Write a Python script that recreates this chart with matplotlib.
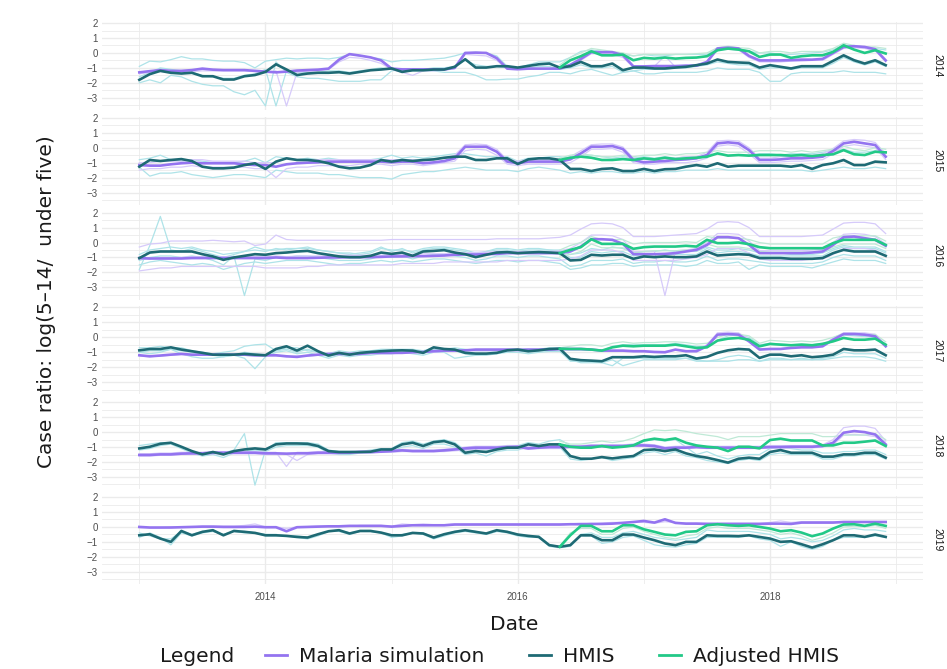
import numpy as np
import matplotlib
matplotlib.use("Agg")
import matplotlib.pyplot as plt
from matplotlib.lines import Line2D

plt.rcParams['font.family'] = ['DejaVu Sans']

# ---------------- data ----------------
years = ["2014", "2015", "2016", "2017", "2018", "2019"]   # facet labels
start_year = 2013            # first month Jan 2013, 72 monthly points
n_months = 72
adj_start = 40               # Adjusted HMIS starts May 2016
x_ticks = [2014, 2016, 2018]
x_tick_labels = ["2014", "2016", "2018"]
y_ticks = [2, 1, 0, -1, -2, -3]

# ---- panel 2014 ----
sim_2014 = [-1.3,-1.22,-1.15,-1.2,-1.2,-1.15,-1.05,-1.12,-1.15,-1.15,-1.15,-1.2,
            -1.25,-1.3,-1.25,-1.18,-1.15,-1.12,-1.05,-0.45,-0.08,-0.18,-0.3,-0.5,
            -1.05,-1.1,-1.1,-1.1,-1.1,-1.1,-1.0,0.0,0.02,0.0,-0.35,-1.05,
            -1.08,-1.05,-1.05,-1.05,-1.05,-0.8,-0.4,0.05,0.05,0.05,-0.15,-0.9,
            -0.9,-0.88,-0.88,-0.88,-0.85,-0.85,-0.6,0.3,0.35,0.3,-0.2,-0.5,
            -0.5,-0.5,-0.48,-0.45,-0.45,-0.4,0.0,0.4,0.45,0.4,0.25,-0.5]
hmis_2014 = [-1.8,-1.42,-1.2,-1.33,-1.38,-1.33,-1.56,-1.56,-1.78,-1.78,-1.56,-1.48,
             -1.27,-0.76,-1.11,-1.48,-1.38,-1.33,-1.33,-1.29,-1.38,-1.27,-1.16,-1.11,
             -1.04,-1.27,-1.16,-1.16,-1.11,-1.11,-0.93,-0.42,-0.98,-0.98,-0.89,-0.89,
             -0.98,-0.87,-0.76,-0.71,-0.98,-0.89,-0.6,-0.89,-0.89,-0.71,-1.16,-0.98,
             -0.98,-1.04,-1.04,-0.98,-0.93,-0.82,-0.71,-0.44,-0.6,-0.64,-0.67,-0.98,
             -0.82,-0.93,-1.04,-0.89,-0.89,-0.89,-0.53,-0.16,-0.49,-0.71,-0.49,-0.82]
adj_2014 = [-0.98,-0.49,-0.22,0.11,-0.16,-0.16,-0.11,-0.49,
            -0.33,-0.38,-0.31,-0.38,-0.33,-0.31,-0.22,0.18,0.29,0.22,0.11,-0.27,
            -0.11,-0.11,-0.33,-0.22,-0.16,-0.16,0.07,0.51,0.22,0.0,0.18,-0.04]
bg_hmis_2014_a = [-0.9,-0.55,-0.6,-0.45,-0.25,-0.4,-0.4,-0.5,-0.55,-0.55,-0.65,-1.0,
                  -0.55,-0.45,-0.35,-0.4,-0.35,-0.35,-0.4,-0.3,-0.1,-0.2,-0.3,-0.4,
                  -0.6,-0.5,-0.5,-0.45,-0.4,-0.35,-0.2,0.0,0.05,0.0,-0.2,-0.9,
                  -1.0,-0.8,-0.6,-0.6,-0.6,-0.3,0.1,0.2,0.1,0.0,-0.1,-0.2,
                  -0.1,-0.2,-0.2,-0.1,-0.1,-0.1,-0.1,0.3,0.35,0.3,0.1,0.0,
                  0.0,-0.1,-0.1,-0.05,0.0,0.05,0.2,0.55,0.45,0.4,0.3,0.2]
bg_hmis_2014_b = [-2.0,-1.8,-2.0,-1.5,-1.6,-1.9,-2.1,-2.2,-2.2,-2.6,-2.8,-2.5,
                  -3.55,-0.6,-1.3,-1.6,-1.7,-1.7,-1.8,-1.9,-1.9,-1.9,-1.8,-1.8,
                  -1.2,-1.1,-1.2,-1.2,-1.2,-1.3,-1.3,-1.3,-1.5,-1.8,-1.8,-1.75,
                  -1.75,-1.6,-1.5,-1.3,-1.3,-1.4,-1.2,-1.1,-1.3,-1.5,-1.3,-1.2,
                  -1.4,-1.4,-1.3,-1.3,-1.3,-1.3,-1.2,-1.0,-1.1,-1.1,-1.1,-1.3,
                  -1.9,-1.9,-1.4,-1.3,-1.3,-1.3,-1.3,-1.2,-1.3,-1.3,-1.3,-1.4]
bg_hmis_2014_c = [-1.6,-1.3,-1.0,-1.1,-1.2,-1.3,-1.5,-1.6,-1.7,-1.7,-1.5,-1.4,
                  -1.1,-3.55,-1.2,-1.3,-1.3,-1.3,-1.2,-1.2,-1.3,-1.2,-1.1,-1.0,
                  -1.1,-1.2,-1.1,-1.1,-1.0,-1.0,-0.9,-0.5,-0.8,-0.9,-0.9,-1.0,
                  -1.0,-1.0,-0.9,-0.9,-1.1,-1.0,-0.8,-1.0,-1.0,-0.9,-1.3,-1.2,
                  -1.1,-1.1,-1.1,-1.0,-1.0,-0.9,-0.8,-0.6,-0.7,-0.8,-0.8,-1.1,
                  -1.0,-1.0,-1.1,-1.0,-1.0,-1.0,-0.7,-0.3,-0.6,-0.8,-0.6,-0.9]
bg_sim_2014_a = [-1.4,-1.3,-1.25,-1.3,-1.3,-1.25,-1.2,-1.2,-1.2,-1.2,-1.2,-1.25,
                 -1.3,-1.2,-3.55,-1.3,-1.2,-1.2,-1.1,-0.6,-0.3,-0.35,-0.5,-0.7,
                 -1.1,-1.3,-1.5,-1.2,-1.2,-1.15,-1.05,-0.1,-0.15,-0.2,-0.5,-1.1,
                 -1.15,-1.1,-1.1,-1.1,-1.1,-0.9,-0.5,-0.05,-0.05,-0.1,-0.3,-0.95,
                 -0.95,-0.9,-0.2,-0.95,-0.9,-0.9,-0.7,0.2,0.25,0.2,-0.3,-0.6,
                 -0.6,-0.6,-0.55,-0.55,-0.5,-0.5,-0.1,0.3,0.35,0.3,0.15,-0.6]
bg_adj_2014_a = [-0.8,-0.3,0.0,0.3,0.2,0.1,0.0,-0.2,
                 -0.1,-0.1,-0.1,-0.1,-0.1,-0.05,0.0,0.35,0.45,0.35,0.3,0.0,
                 0.1,0.1,0.0,0.1,0.1,0.1,0.3,0.65,0.5,0.4,0.4,0.3]

# ---- panel 2015 ----
sim_2015 = [-1.16,-1.2,-1.2,-1.11,-1.04,-1.0,-1.04,-1.04,-1.04,-1.04,-1.11,-1.16,
            -1.16,-1.27,-1.11,-1.04,-1.0,-0.98,-0.93,-0.93,-0.93,-0.93,-0.93,-0.93,
            -0.98,-0.93,-0.93,-1.04,-0.98,-0.89,-0.71,0.07,0.07,0.07,-0.27,-0.93,
            -1.04,-0.93,-0.93,-0.93,-0.93,-0.78,-0.38,0.07,0.07,0.11,-0.09,-0.82,
            -0.98,-0.93,-0.89,-0.82,-0.78,-0.71,-0.49,0.29,0.36,0.29,-0.16,-0.82,
            -0.82,-0.78,-0.71,-0.71,-0.67,-0.6,-0.22,0.29,0.4,0.29,0.18,-0.6]
hmis_2015 = [-1.27,-0.82,-0.89,-0.82,-0.76,-0.89,-1.27,-1.38,-1.38,-1.33,-1.16,-1.04,
             -1.42,-0.93,-0.71,-0.82,-0.82,-0.89,-1.04,-1.27,-1.38,-1.33,-1.16,-0.82,
             -0.93,-0.82,-0.89,-0.82,-0.78,-0.67,-0.6,-0.6,-0.82,-0.82,-0.71,-0.71,
             -1.09,-0.78,-0.71,-0.71,-0.82,-1.42,-1.42,-1.56,-1.42,-1.38,-1.56,-1.56,
             -1.42,-1.56,-1.44,-1.42,-1.27,-1.16,-1.27,-1.04,-1.27,-1.2,-1.2,-1.2,
             -1.2,-1.2,-1.27,-1.16,-1.42,-1.16,-1.04,-0.82,-1.16,-1.16,-0.93,-0.98]
adj_2015 = [-0.82,-0.67,-0.6,-0.67,-0.82,-0.82,-0.76,-0.82,
            -0.71,-0.78,-0.67,-0.76,-0.71,-0.67,-0.6,-0.38,-0.53,-0.49,-0.53,-0.49,
            -0.49,-0.49,-0.53,-0.49,-0.56,-0.49,-0.44,-0.16,-0.44,-0.49,-0.27,-0.31]
bg_hmis_2015_a = [-1.3,-1.9,-1.7,-1.7,-1.6,-1.8,-1.9,-2.0,-1.9,-1.8,-1.8,-1.9,
                  -2.0,-1.5,-1.6,-1.7,-1.7,-1.7,-1.8,-1.8,-1.9,-2.0,-2.0,-2.0,
                  -2.1,-1.8,-1.7,-1.6,-1.6,-1.5,-1.4,-1.3,-1.4,-1.5,-1.5,-1.5,
                  -1.6,-1.4,-1.3,-1.4,-1.5,-1.7,-1.6,-1.7,-1.6,-1.6,-1.7,-1.7,
                  -1.6,-1.7,-1.6,-1.6,-1.5,-1.5,-1.5,-1.4,-1.5,-1.5,-1.5,-1.5,
                  -1.5,-1.5,-1.5,-1.5,-1.6,-1.5,-1.4,-1.3,-1.4,-1.4,-1.3,-1.4]
bg_hmis_2015_b = [-0.8,-0.7,-0.5,-0.8,-0.9,-0.8,-0.9,-1.0,-1.0,-1.0,-0.9,-0.7,
                  -1.0,-0.6,-0.7,-0.8,-0.7,-0.8,-0.7,-0.8,-0.9,-0.8,-0.8,-0.7,
                  -0.5,-0.7,-0.6,-0.7,-0.6,-0.5,-0.4,-0.4,-0.5,-0.6,-0.6,-0.6,
                  -0.9,-0.7,-0.7,-0.6,-0.6,-0.7,-0.6,-0.5,-0.6,-0.7,-0.6,-0.7,
                  -0.6,-0.7,-0.6,-0.7,-0.6,-0.6,-0.5,-0.4,-0.5,-0.5,-0.5,-0.4,
                  -0.4,-0.5,-0.4,-0.4,-0.4,-0.3,-0.2,-0.1,-0.3,-0.3,-0.2,-0.3]
bg_sim_2015_a = [-1.0,-1.0,-0.9,-0.9,-0.9,-0.8,-0.8,-0.9,-0.9,-0.9,-0.9,-1.0,
                 -1.0,-1.0,-0.7,-0.8,-0.8,-0.8,-0.8,-0.8,-0.8,-0.8,-0.8,-0.8,
                 -0.8,-0.8,-0.8,-0.9,-0.8,-0.7,-0.5,0.2,0.25,0.2,-0.1,-0.8,
                 -0.9,-0.8,-0.8,-0.8,-0.8,-0.6,-0.2,0.2,0.25,0.25,0.05,-0.7,
                 -0.8,-0.8,-0.7,-0.7,-0.6,-0.6,-0.3,0.45,0.5,0.45,0.0,-0.7,
                 -0.7,-0.6,-0.6,-0.6,-0.5,-0.4,-0.05,0.45,0.55,0.5,0.35,-0.4]
bg_sim_2015_b = [-1.5,-1.4,-1.4,-1.3,-1.3,-1.2,-1.3,-1.3,-1.3,-1.3,-1.3,-1.4,
                 -1.4,-2.0,-1.4,-1.3,-1.3,-1.2,-1.2,-1.2,-1.2,-1.1,-1.1,-1.1,
                 -1.2,-1.1,-1.1,-1.2,-1.1,-1.0,-0.9,-0.2,-0.1,-0.15,-0.5,-1.1,
                 -1.2,-1.1,-1.1,-1.1,-1.1,-1.0,-0.6,-0.1,-0.1,-0.05,-0.3,-1.0,
                 -1.1,-1.1,-1.0,-1.0,-1.0,-0.9,-0.7,0.1,0.2,0.1,-0.4,-1.0,
                 -1.0,-0.95,-0.9,-0.9,-0.85,-0.8,-0.4,0.1,0.2,0.1,0.0,-0.8]
bg_adj_2015_a = [-0.7,-0.5,-0.4,-0.5,-0.6,-0.6,-0.5,-0.6,
                 -0.5,-0.5,-0.4,-0.5,-0.4,-0.4,-0.3,-0.2,-0.3,-0.3,-0.3,-0.2,
                 -0.2,-0.2,-0.3,-0.2,-0.3,-0.2,-0.1,0.1,-0.1,-0.2,0.0,-0.1]

# ---- panel 2016 ----
sim_2016 = [-1.04,-1.07,-1.07,-1.07,-1.07,-1.04,-1.04,-1.04,-1.04,-1.04,-1.04,-1.04,
            -1.04,-1.0,-1.04,-1.04,-1.04,-1.02,-1.0,-1.0,-0.98,-0.98,-0.98,-0.96,
            -0.93,-0.93,-0.91,-0.91,-0.89,-0.87,-0.82,-0.8,-0.8,-0.78,-0.76,-0.71,
            -0.71,-0.71,-0.71,-0.71,-0.71,-0.6,-0.27,0.22,0.22,0.18,-0.09,-0.78,
            -0.78,-0.78,-0.76,-0.71,-0.6,-0.49,-0.16,0.36,0.36,0.29,-0.16,-0.71,
            -0.71,-0.71,-0.71,-0.71,-0.67,-0.6,-0.16,0.36,0.4,0.29,0.18,-0.22]
hmis_2016 = [-1.04,-0.67,-0.6,-0.6,-0.6,-0.6,-0.78,-0.93,-1.16,-1.0,-0.89,-0.78,
             -0.82,-0.71,-0.67,-0.6,-0.56,-0.71,-0.82,-0.93,-0.98,-0.98,-0.89,-0.67,
             -0.76,-0.67,-0.89,-0.6,-0.56,-0.51,-0.67,-0.78,-0.98,-0.82,-0.67,-0.64,
             -0.71,-0.67,-0.64,-0.67,-0.71,-1.2,-1.16,-0.82,-0.87,-0.82,-0.82,-1.09,
             -0.93,-0.98,-0.93,-0.98,-0.98,-0.93,-0.6,-0.87,-0.82,-0.78,-0.82,-1.04,
             -1.04,-1.04,-1.09,-1.09,-1.09,-1.04,-0.71,-0.49,-0.6,-0.6,-0.6,-0.89]
adj_2016 = [-0.71,-0.49,-0.31,0.22,-0.09,-0.09,-0.09,-0.42,
            -0.31,-0.27,-0.27,-0.27,-0.22,-0.27,0.18,-0.04,-0.04,0.0,-0.11,-0.31,
            -0.38,-0.38,-0.38,-0.38,-0.38,-0.38,-0.04,0.18,0.18,0.18,0.18,-0.16]
bg_hmis_2016_a = [-1.8,-0.2,1.75,-0.5,-0.6,-0.4,-0.6,-0.8,-1.0,-0.8,-0.6,-0.3,
                  -0.5,-0.5,-0.4,-0.4,-0.3,-0.5,-0.6,-0.7,-0.7,-0.8,-0.7,-0.4,
                  -0.5,-0.5,-0.6,-0.4,-0.3,-0.3,-0.4,-0.5,-0.7,-0.6,-0.4,-0.4,
                  -0.5,-0.4,-0.4,-0.5,-0.5,-0.8,-0.7,-0.4,-0.5,-0.3,-0.4,-0.7,
                  -0.6,-0.6,-0.5,-0.6,-0.6,-0.6,-0.3,-0.5,-0.5,-0.4,-0.5,-0.7,
                  -0.7,-0.7,-0.8,-0.8,-0.8,-0.7,-0.4,-0.2,-0.3,-0.3,-0.3,-0.6]
bg_hmis_2016_b = [-1.2,-1.0,-0.9,-0.9,-1.0,-0.9,-1.0,-1.2,-1.5,-0.9,-3.55,-1.1,
                  -1.2,-1.0,-1.0,-0.9,-0.9,-1.0,-1.1,-1.2,-1.2,-1.2,-1.1,-0.9,
                  -1.0,-0.9,-1.1,-0.9,-0.8,-0.8,-0.9,-1.0,-1.2,-1.1,-0.9,-0.9,
                  -1.0,-0.9,-0.9,-1.0,-1.1,-1.6,-1.5,-1.2,-1.2,-1.2,-1.1,-1.4,
                  -1.3,-1.3,-1.2,-1.3,-1.3,-1.2,-0.9,-1.2,-1.1,-1.1,-1.2,-1.3,
                  -1.4,-1.4,-1.4,-1.4,-1.4,-1.3,-1.0,-0.8,-0.9,-0.9,-0.9,-1.2]
bg_hmis_2016_c = [-1.5,-1.3,-1.2,-1.3,-1.4,-1.5,-1.4,-1.5,-1.8,-1.6,-1.4,-1.3,
                  -1.4,-1.3,-1.2,-1.2,-1.2,-1.3,-1.4,-1.5,-1.4,-1.4,-1.3,-1.2,
                  -1.3,-1.2,-1.3,-1.2,-1.1,-1.1,-1.2,-1.3,-1.4,-1.3,-1.2,-1.2,
                  -1.3,-1.2,-1.2,-1.3,-1.4,-1.8,-1.7,-1.5,-1.5,-1.4,-1.4,-1.6,
                  -1.5,-1.5,-1.5,-1.5,-1.6,-1.5,-1.2,-1.4,-1.4,-1.3,-1.8,-1.5,
                  -1.6,-1.6,-1.6,-1.6,-1.7,-1.5,-1.3,-1.1,-1.2,-1.2,-1.2,-1.4]
bg_hmis_2016_d = [-0.8,-0.5,-0.4,-0.3,-0.4,-0.3,-0.5,-0.6,-0.8,-0.7,-0.6,-0.5,
                  -0.6,-0.4,-0.5,-0.4,-0.4,-0.5,-0.6,-0.7,-0.8,-0.7,-0.6,-0.3,
                  -0.6,-0.4,-0.7,-0.5,-0.4,-0.4,-0.5,-0.6,-0.8,-0.6,-0.5,-0.5,
                  -0.6,-0.5,-0.5,-0.5,-0.6,-1.0,-1.0,-0.6,-0.7,-0.6,-0.6,-0.9,
                  -0.8,-0.8,-0.8,-0.8,-0.8,-0.8,-0.4,-0.7,-0.6,-0.6,-0.7,-0.9,
                  -0.9,-0.9,-0.9,-0.9,-0.9,-0.9,-0.5,-0.3,-0.4,-0.4,-0.4,-0.7]
bg_sim_2016_a = [-0.3,-0.1,-0.05,0.1,0.1,0.1,0.1,0.15,0.1,0.05,0.1,-0.2,
                 -0.1,0.5,0.2,0.15,0.15,0.15,0.15,0.15,0.15,0.15,0.15,0.15,
                 0.2,0.2,0.2,0.2,0.2,0.2,0.2,0.2,0.2,0.2,0.25,0.25,
                 0.25,0.25,0.25,0.3,0.35,0.5,0.9,1.25,1.3,1.25,1.0,0.4,
                 0.4,0.4,0.45,0.5,0.55,0.6,0.9,1.35,1.4,1.35,1.0,0.4,
                 0.4,0.4,0.4,0.4,0.45,0.5,0.9,1.3,1.35,1.35,1.25,0.6]
bg_sim_2016_b = [-1.1,-1.1,-1.0,-1.0,-1.0,-0.95,-0.95,-0.95,-0.95,-0.95,-0.95,-0.95,
                 -0.95,-0.9,-0.95,-0.9,-0.9,-0.9,-0.9,-0.85,-0.85,-0.85,-0.85,-0.85,
                 -0.8,-0.8,-0.8,-0.75,-0.75,-0.75,-0.7,-0.7,-0.65,-0.65,-0.6,-0.6,
                 -0.6,-0.6,-0.6,-0.6,-0.55,-0.4,0.0,0.5,0.5,0.45,0.2,-0.6,
                 -0.6,-0.6,-3.55,-0.55,-0.5,-0.4,0.0,0.6,0.6,0.55,0.1,-0.55,
                 -0.55,-0.55,-0.55,-0.55,-0.5,-0.45,0.0,0.55,0.6,0.55,0.4,-0.1]
bg_sim_2016_c = [-1.9,-1.8,-1.7,-1.7,-1.6,-1.6,-1.6,-1.6,-1.6,-1.6,-1.6,-1.6,
                 -1.7,-1.7,-1.7,-1.7,-1.6,-1.6,-1.5,-1.5,-1.5,-1.5,-1.5,-1.5,
                 -1.5,-1.4,-1.4,-1.4,-1.4,-1.3,-1.3,-1.3,-1.3,-1.3,-1.3,-1.2,
                 -1.2,-1.2,-1.2,-1.2,-1.2,-1.1,-0.9,-0.5,-0.5,-0.5,-0.7,-1.2,
                 -1.2,-1.2,-1.2,-1.2,-1.1,-1.0,-0.8,-0.4,-0.4,-0.4,-0.7,-1.1,
                 -1.2,-1.2,-1.2,-1.2,-1.1,-1.1,-0.8,-0.4,-0.4,-0.4,-0.5,-0.9]
bg_adj_2016_a = [-0.5,-0.2,0.0,0.4,0.2,0.2,0.2,-0.1,
                 0.0,0.0,0.0,0.0,0.05,0.0,0.4,0.3,0.3,0.3,0.2,0.0,
                 -0.1,-0.1,-0.1,-0.1,-0.1,-0.1,0.3,0.45,0.45,0.45,0.45,0.1]
bg_adj_2016_b = [-0.9,-0.8,-0.6,-0.1,-0.35,-0.35,-0.35,-0.7,
                 -0.6,-0.55,-0.55,-0.55,-0.5,-0.55,-0.1,-0.3,-0.3,-0.3,-0.4,-0.6,
                 -0.65,-0.65,-0.65,-0.65,-0.65,-0.65,-0.3,-0.1,-0.1,-0.1,-0.1,-0.4]

# ---- panel 2017 ----
sim_2017 = [-1.2,-1.27,-1.22,-1.16,-1.11,-1.16,-1.16,-1.16,-1.16,-1.16,-1.16,-1.2,
            -1.2,-1.2,-1.27,-1.31,-1.22,-1.16,-1.11,-1.11,-1.11,-1.11,-1.04,-1.04,
            -1.04,-1.04,-1.0,-0.98,-0.93,-0.89,-0.89,-0.87,-0.82,-0.82,-0.82,-0.82,
            -0.84,-0.82,-0.82,-0.82,-0.78,-0.78,-0.78,-0.82,-0.89,-0.89,-0.89,-0.93,
            -0.93,-0.98,-1.0,-0.82,-0.93,-0.93,-0.6,0.18,0.22,0.18,-0.27,-0.82,
            -0.78,-0.78,-0.71,-0.67,-0.67,-0.6,-0.16,0.22,0.22,0.18,0.07,-0.6]
hmis_2017 = [-0.87,-0.78,-0.78,-0.67,-0.82,-0.93,-1.04,-1.16,-1.16,-1.16,-1.11,-1.16,
             -1.2,-0.78,-0.6,-0.89,-0.56,-0.93,-1.22,-1.04,-1.16,-1.04,-0.98,-0.93,
             -0.89,-0.87,-0.89,-1.04,-0.67,-0.78,-0.82,-1.04,-1.09,-1.09,-1.04,-0.87,
             -0.82,-0.93,-0.87,-0.78,-0.76,-1.44,-1.53,-1.56,-1.6,-1.33,-1.33,-1.33,
             -1.27,-1.31,-1.27,-1.27,-1.2,-1.42,-1.31,-1.04,-0.87,-0.78,-0.82,-1.38,
             -1.16,-1.16,-1.27,-1.2,-1.33,-1.27,-1.16,-0.78,-0.87,-0.87,-0.82,-1.2]
adj_2017 = [-0.76,-0.78,-0.78,-0.82,-0.89,-0.67,-0.56,-0.6,
            -0.56,-0.56,-0.56,-0.49,-0.6,-0.71,-0.67,-0.22,-0.09,-0.04,-0.16,-0.6,
            -0.44,-0.49,-0.53,-0.49,-0.53,-0.44,-0.27,-0.04,-0.16,-0.16,-0.09,-0.49]
bg_hmis_2017_a = [-0.7,-0.7,-0.6,-0.7,-0.7,-0.9,-1.0,-1.1,-1.0,-0.9,-0.6,-0.5,
                  -0.45,-0.9,-0.7,-0.7,-0.9,-1.0,-1.1,-0.9,-1.0,-0.9,-0.9,-0.8,
                  -0.8,-0.8,-0.8,-0.9,-0.7,-0.8,-0.7,-0.8,-0.9,-0.9,-0.9,-0.8,
                  -0.8,-0.8,-0.8,-0.7,-0.7,-0.8,-0.8,-0.8,-0.9,-0.6,-0.5,-0.5,
                  -0.5,-0.5,-0.5,-0.4,-0.5,-0.6,-0.6,-0.2,0.1,0.15,0.0,-0.5,
                  -0.4,-0.45,-0.5,-0.45,-0.5,-0.4,-0.2,0.15,0.1,0.05,0.0,-0.5]
bg_hmis_2017_b = [-1.0,-1.1,-1.0,-0.8,-1.1,-1.3,-1.4,-1.4,-1.3,-1.2,-1.4,-2.1,
                  -1.3,-1.0,-0.9,-1.1,-1.0,-1.2,-1.4,-1.2,-1.3,-1.2,-1.2,-1.1,
                  -1.1,-1.0,-1.1,-1.2,-1.0,-1.0,-1.4,-1.3,-1.2,-1.1,-1.1,-1.0,
                  -1.0,-1.1,-1.0,-0.95,-0.95,-1.5,-1.7,-1.7,-1.7,-1.9,-1.4,-1.4,
                  -1.4,-1.4,-1.4,-1.4,-1.4,-1.6,-1.6,-1.5,-1.3,-1.2,-1.3,-1.6,
                  -1.4,-1.4,-1.5,-1.4,-1.5,-1.4,-1.3,-1.0,-1.1,-1.1,-1.1,-1.4]
bg_hmis_2017_c = [-1.0,-0.9,-0.9,-0.8,-0.9,-1.0,-1.1,-1.2,-1.3,-1.2,-1.0,-1.1,
                  -1.2,-0.9,-0.8,-1.0,-0.8,-1.0,-1.3,-1.1,-1.2,-1.1,-1.0,-1.0,
                  -0.9,-0.9,-0.9,-1.1,-0.8,-0.9,-0.9,-1.1,-1.2,-1.2,-1.1,-0.9,
                  -0.9,-1.0,-0.9,-0.9,-0.9,-1.6,-1.6,-1.6,-1.7,-1.5,-1.9,-1.7,
                  -1.5,-1.5,-1.5,-1.5,-1.4,-1.5,-1.6,-1.6,-1.6,-1.5,-1.5,-1.6,
                  -1.5,-1.5,-1.5,-1.5,-1.5,-1.5,-1.4,-1.3,-1.3,-1.3,-1.4,-1.6]
bg_sim_2017_a = [-1.25,-1.3,-1.25,-1.2,-1.15,-1.2,-1.2,-1.2,-1.2,-1.2,-1.2,-1.25,
                 -1.25,-1.25,-1.3,-1.25,-1.25,-1.2,-1.15,-1.15,-1.15,-1.15,-1.1,-1.1,
                 -1.1,-1.05,-1.05,-1.0,-1.0,-0.95,-0.95,-0.9,-0.9,-0.9,-0.9,-0.9,
                 -0.9,-0.85,-0.85,-0.85,-0.85,-0.85,-0.85,-0.85,-0.9,-0.9,-0.9,-0.95,
                 -0.95,-0.95,-0.95,-0.85,-0.9,-0.85,-0.5,0.3,0.35,0.3,-0.1,-0.75,
                 -0.75,-0.75,-0.7,-0.65,-0.6,-0.55,-0.05,0.3,0.3,0.3,0.2,-0.5]
bg_adj_2017_a = [-0.7,-0.6,-0.5,-0.5,-0.6,-0.4,-0.3,-0.4,
                 -0.35,-0.35,-0.3,-0.3,-0.35,-0.45,-0.4,0.0,0.2,0.2,0.1,-0.4,
                 -0.2,-0.25,-0.3,-0.25,-0.3,-0.2,0.0,0.25,0.2,0.15,0.2,-0.3]

# ---- panel 2018 ----
sim_2018 = [-1.53,-1.53,-1.49,-1.49,-1.44,-1.42,-1.42,-1.38,-1.38,-1.38,-1.38,-1.38,
            -1.42,-1.42,-1.44,-1.42,-1.42,-1.38,-1.38,-1.38,-1.38,-1.33,-1.33,-1.31,
            -1.27,-1.22,-1.27,-1.27,-1.27,-1.22,-1.16,-1.09,-1.04,-1.04,-1.04,-1.0,
            -0.98,-1.09,-1.04,-1.0,-1.0,-0.98,-0.98,-0.93,-0.93,-0.93,-0.93,-0.89,
            -0.89,-0.93,-1.09,-1.04,-1.04,-1.0,-1.04,-1.04,-1.04,-1.04,-1.04,-1.04,
            -1.0,-1.0,-0.98,-0.98,-0.98,-0.93,-0.71,-0.04,0.07,0.0,-0.16,-0.82]
hmis_2018 = [-1.09,-0.98,-0.78,-0.71,-0.98,-1.27,-1.49,-1.33,-1.49,-1.27,-1.16,-1.09,
             -1.16,-0.82,-0.76,-0.76,-0.78,-0.93,-1.27,-1.33,-1.33,-1.33,-1.31,-1.16,
             -1.16,-0.82,-0.71,-0.93,-0.67,-0.6,-0.82,-1.38,-1.27,-1.33,-1.16,-1.04,
             -1.04,-0.82,-0.93,-0.82,-0.82,-1.6,-1.78,-1.78,-1.67,-1.76,-1.67,-1.6,
             -1.2,-1.16,-1.27,-1.16,-1.42,-1.6,-1.71,-1.87,-2.04,-1.78,-1.71,-1.78,
             -1.33,-1.2,-1.38,-1.38,-1.38,-1.64,-1.64,-1.49,-1.49,-1.38,-1.38,-1.71]
adj_2018 = [-0.82,-0.98,-1.04,-1.04,-0.93,-1.04,-0.98,-0.89,
            -0.56,-0.44,-0.53,-0.42,-0.71,-0.89,-0.98,-1.04,-1.27,-0.98,-0.98,-1.09,
            -0.53,-0.44,-0.56,-0.56,-0.56,-0.89,-0.89,-0.71,-0.71,-0.64,-0.56,-0.93]
bg_hmis_2018_a = [-0.9,-0.8,-0.7,-0.7,-1.0,-1.3,-1.5,-1.4,-1.4,-1.2,-0.1,-3.55,
                  -1.2,-0.7,-0.7,-0.7,-0.7,-0.8,-1.2,-1.3,-1.3,-1.3,-1.2,-1.1,
                  -1.1,-0.7,-0.6,-0.8,-0.6,-0.5,-0.7,-1.2,-1.1,-1.2,-1.0,-0.9,
                  -0.9,-0.7,-0.8,-0.6,-0.5,-0.9,-1.0,-0.9,-0.9,-1.0,-0.9,-0.8,
                  -0.6,-0.5,-0.6,-0.5,-1.0,-1.5,-1.3,-1.6,-1.8,-1.6,-1.5,-1.5,
                  -1.1,-1.0,-1.1,-1.2,-1.2,-1.4,-1.4,-1.3,-1.3,-1.2,-1.2,-1.5]
bg_hmis_2018_b = [-1.2,-1.1,-0.9,-0.8,-1.1,-1.4,-1.6,-1.5,-1.7,-1.4,-1.3,-1.2,
                  -1.3,-1.0,-0.9,-0.9,-0.9,-1.0,-1.4,-1.5,-1.5,-1.4,-1.4,-1.3,
                  -1.3,-1.0,-0.9,-1.1,-0.8,-0.8,-1.0,-1.5,-1.4,-1.6,-1.3,-1.2,
                  -1.2,-1.0,-1.1,-1.0,-1.0,-1.8,-1.9,-1.8,-1.7,-1.9,-1.8,-1.7,
                  -1.4,-1.3,-1.5,-1.3,-1.6,-1.7,-1.9,-2.0,-2.1,-1.9,-1.8,-1.9,
                  -1.5,-1.4,-1.5,-1.5,-1.5,-1.8,-1.8,-1.6,-1.6,-1.5,-1.5,-1.8]
bg_sim_2018_a = [-1.45,-1.45,-1.4,-1.4,-1.35,-1.35,-1.35,-1.3,-1.3,-1.3,-1.3,-1.3,
                 -1.35,-1.35,-2.3,-1.35,-1.35,-1.3,-1.3,-1.3,-1.3,-1.25,-1.25,-1.2,
                 -1.2,-1.15,-1.2,-1.2,-1.2,-1.15,-1.1,-1.0,-0.95,-0.95,-0.95,-0.9,
                 -0.9,-1.0,-0.95,-0.9,-0.9,-0.9,-0.9,-0.85,-0.85,-0.85,-0.85,-0.8,
                 -0.8,-0.85,-1.0,-0.95,-0.95,-0.9,-0.95,-0.95,-0.95,-0.95,-0.95,-0.95,
                 -0.9,-0.9,-0.9,-0.9,-0.9,-0.85,-0.5,0.3,0.4,0.4,0.25,-0.6]
bg_sim_2018_b = [-1.6,-1.6,-1.55,-1.55,-1.5,-1.5,-1.5,-1.45,-1.45,-1.45,-1.45,-1.45,
                 -1.5,-1.5,-1.5,-1.9,-1.5,-1.45,-1.45,-1.45,-1.4,-1.4,-1.4,-1.35,
                 -1.35,-1.3,-1.3,-1.3,-1.3,-1.3,-1.25,-1.2,-1.15,-1.15,-1.1,-1.1,
                 -1.05,-1.15,-1.1,-1.1,-1.1,-1.05,-1.05,-1.0,-1.0,-1.0,-1.0,-0.95,
                 -0.95,-1.0,-1.15,-1.1,-1.1,-1.05,-1.1,-1.1,-1.1,-1.1,-1.1,-1.1,
                 -1.05,-1.05,-1.05,-1.05,-1.05,-1.0,-0.85,-0.2,-0.15,-0.2,-0.3,-0.9]
bg_adj_2018_a = [-0.6,-0.8,-0.8,-0.7,-0.6,-0.7,-0.6,-0.4,
                 -0.1,0.15,0.1,0.15,0.05,-0.1,-0.2,-0.3,-0.5,-0.3,-0.3,-0.3,
                 -0.2,-0.1,-0.1,-0.1,-0.1,-0.3,-0.3,-0.2,-0.2,-0.2,-0.1,-0.5]

# ---- panel 2019 ----
sim_2019 = [0.0,-0.04,-0.04,-0.04,-0.02,0.0,0.02,0.02,0.0,0.0,0.0,0.02,
            -0.02,-0.02,-0.29,-0.02,0.0,0.02,0.04,0.04,0.07,0.07,0.07,0.07,
            0.02,0.07,0.11,0.11,0.11,0.11,0.16,0.16,0.16,0.16,0.16,0.16,
            0.16,0.16,0.16,0.16,0.16,0.18,0.18,0.2,0.2,0.22,0.27,0.33,
            0.4,0.29,0.51,0.27,0.22,0.22,0.2,0.2,0.2,0.2,0.2,0.2,
            0.22,0.22,0.2,0.29,0.29,0.29,0.29,0.33,0.33,0.33,0.33,0.33]
hmis_2019 = [-0.56,-0.49,-0.78,-1.0,-0.27,-0.56,-0.33,-0.22,-0.56,-0.27,-0.33,-0.4,
             -0.56,-0.56,-0.6,-0.67,-0.71,-0.49,-0.29,-0.22,-0.44,-0.27,-0.27,-0.38,
             -0.56,-0.56,-0.4,-0.44,-0.71,-0.49,-0.33,-0.22,-0.33,-0.44,-0.22,-0.33,
             -0.51,-0.6,-0.67,-1.22,-1.33,-1.22,-0.56,-0.56,-0.89,-0.89,-0.51,-0.51,
             -0.71,-0.89,-1.11,-1.22,-1.0,-1.0,-0.56,-0.6,-0.6,-0.62,-0.56,-0.67,
             -0.78,-1.0,-0.96,-1.16,-1.38,-1.16,-0.89,-0.56,-0.56,-0.67,-0.51,-0.67]
adj_2019 = [-1.33,-0.56,0.07,0.07,-0.29,-0.29,0.11,0.11,
            -0.16,-0.33,-0.51,-0.56,-0.33,-0.29,0.11,0.18,0.11,0.07,0.11,0.0,
            -0.11,-0.29,-0.22,-0.38,-0.62,-0.44,-0.11,0.16,0.18,0.07,0.22,0.07]
bg_hmis_2019_a = [-0.7,-0.4,-0.7,-1.2,-0.4,-0.6,-0.4,-0.3,-0.5,-0.3,-0.3,-0.4,
                  -0.6,-0.6,-0.6,-0.7,-0.8,-0.6,-0.3,-0.3,-0.5,-0.3,-0.3,-0.4,
                  -0.7,-0.6,-0.4,-0.5,-0.8,-0.6,-0.4,-0.3,-0.4,-0.5,-0.3,-0.4,
                  -0.6,-0.7,-0.7,-1.3,-1.4,-1.3,-0.6,-0.6,-1.1,-1.0,-0.7,-0.6,
                  -0.9,-1.2,-1.3,-1.35,-1.2,-1.1,-0.7,-0.7,-0.7,-0.7,-0.6,-0.8,
                  -0.9,-1.3,-1.0,-1.3,-1.5,-1.3,-0.9,-0.7,-0.7,-0.7,-0.6,-0.7]
bg_hmis_2019_b = [-0.4,-0.6,-0.8,-0.8,-0.3,-0.5,-0.3,-0.3,-0.5,-0.3,-0.4,-0.4,
                  -0.5,-0.5,-0.6,-0.6,-0.7,-0.5,-0.3,-0.2,-0.4,-0.3,-0.3,-0.4,
                  -0.6,-0.5,-0.4,-0.4,-0.7,-0.5,-0.3,-0.2,-0.3,-0.5,-0.3,-0.3,
                  -0.5,-0.6,-0.6,-1.2,-1.3,-1.2,-0.5,-0.4,-0.7,-0.7,-0.4,-0.3,
                  -0.5,-0.7,-0.8,-0.9,-0.8,-0.7,-0.2,-0.3,-0.3,-0.3,-0.3,-0.4,
                  -0.5,-0.8,-0.7,-0.8,-1.0,-0.9,-0.6,-0.2,-0.1,-0.2,-0.2,-0.3]
bg_sim_2019_a = [-0.05,-0.05,-0.05,0.0,0.0,0.0,0.05,0.05,0.05,0.05,0.1,0.2,
                 0.0,0.0,-0.1,0.0,0.02,0.05,0.05,0.05,0.05,0.1,0.1,0.1,
                 0.05,0.2,0.15,0.2,0.15,0.15,0.2,0.2,0.2,0.2,0.2,0.2,
                 0.2,0.2,0.2,0.2,0.2,0.2,0.25,0.2,0.25,0.3,0.3,0.35,
                 0.3,0.25,0.35,0.3,0.25,0.25,0.25,0.25,0.25,0.25,0.25,0.25,
                 0.3,0.4,0.3,0.35,0.35,0.35,0.35,0.35,0.35,0.35,0.35,0.35]
bg_adj_2019_a = [-1.3,-0.4,-0.1,-0.1,-0.5,-0.5,-0.1,0.0,
                 -0.3,-0.5,-0.7,-0.8,-0.6,-0.5,-0.1,0.0,-0.1,-0.1,-0.1,-0.2,
                 -0.3,-0.5,-0.4,-0.6,-0.9,-0.7,-0.4,0.0,0.05,0.0,0.1,-0.1]

panels = [
    (sim_2014, hmis_2014, adj_2014,
     [bg_hmis_2014_a, bg_hmis_2014_b, bg_hmis_2014_c], [bg_sim_2014_a], [bg_adj_2014_a]),
    (sim_2015, hmis_2015, adj_2015,
     [bg_hmis_2015_a, bg_hmis_2015_b], [bg_sim_2015_a, bg_sim_2015_b], [bg_adj_2015_a]),
    (sim_2016, hmis_2016, adj_2016,
     [bg_hmis_2016_a, bg_hmis_2016_b, bg_hmis_2016_c, bg_hmis_2016_d],
     [bg_sim_2016_a, bg_sim_2016_b, bg_sim_2016_c], [bg_adj_2016_a, bg_adj_2016_b]),
    (sim_2017, hmis_2017, adj_2017,
     [bg_hmis_2017_a, bg_hmis_2017_b, bg_hmis_2017_c], [bg_sim_2017_a], [bg_adj_2017_a]),
    (sim_2018, hmis_2018, adj_2018,
     [bg_hmis_2018_a, bg_hmis_2018_b], [bg_sim_2018_a, bg_sim_2018_b], [bg_adj_2018_a]),
    (sim_2019, hmis_2019, adj_2019,
     [bg_hmis_2019_a, bg_hmis_2019_b], [bg_sim_2019_a], [bg_adj_2019_a]),
]

# ---------------- style ----------------
C_SIM = '#9474F0'
C_HMIS = '#1E6A74'
C_ADJ = '#22C987'
C_SIM_BG = '#D6CAFA'
C_HMIS_BG = '#AEE3E8'
C_ADJ_BG = '#BFE9D6'
GRID = '#EBEBEB'
TITLE_FS = 14.5

x = start_year + np.arange(n_months) / 12.0
x_adj = x[adj_start:]
span = x[-1] - x[0]
xlim = (x[0] - 0.05 * span, x[-1] + 0.05 * span)
ylim = (-3.82, 2.07)

W, H = 947, 669
fig = plt.figure(figsize=(W / 100, H / 100), dpi=100)
left_px, right_px = 102, 923
top0, pitch, ph = 22, 94.8, 88

for i, (sim, hmis, adj, bg_h, bg_s, bg_a) in enumerate(panels):
    for arr in [sim, hmis] + bg_h + bg_s:
        assert len(arr) == n_months, (years[i], len(arr))
    for arr in [adj] + bg_a:
        assert len(arr) == n_months - adj_start, (years[i], len(arr))
    top = top0 + pitch * i
    ax = fig.add_axes([left_px / W, 1 - (top + ph) / H, (right_px - left_px) / W, ph / H])
    ax.set_xlim(*xlim)
    ax.set_ylim(*ylim)
    for s in ax.spines.values():
        s.set_visible(False)
    ax.set_yticks(y_ticks)
    ax.set_yticks([1.5, 0.5, -0.5, -1.5, -2.5, -3.5], minor=True)
    ax.set_xticks(x_ticks)
    ax.set_xticks([2013, 2015, 2017, 2019], minor=True)
    ax.grid(which='major', color=GRID, lw=1.0, zorder=0)
    ax.grid(which='minor', color=GRID, lw=0.6, zorder=0)
    ax.tick_params(which='both', length=0)
    ax.tick_params(axis='y', labelsize=7, labelcolor='#4D4D4D', pad=3)
    for t in ax.get_yticklabels():
        t.set_fontfamily(['Liberation Sans', 'DejaVu Sans'])
    if i == len(panels) - 1:
        ax.set_xticklabels(x_tick_labels)
        ax.tick_params(axis='x', labelsize=7, labelcolor='#4D4D4D', pad=6)
        for t in ax.get_xticklabels():
            t.set_fontfamily(['Liberation Sans', 'DejaVu Sans'])
    else:
        ax.set_xticklabels([])

    for arr in bg_h:
        ax.plot(x, arr, color=C_HMIS_BG, lw=0.9, zorder=2, solid_joinstyle='round')
    for arr in bg_s:
        ax.plot(x, arr, color=C_SIM_BG, lw=0.9, zorder=2, solid_joinstyle='round')
    for arr in bg_a:
        ax.plot(x_adj, arr, color=C_ADJ_BG, lw=0.9, zorder=2, solid_joinstyle='round')
    ax.plot(x, sim, color=C_SIM, lw=1.9, zorder=3, solid_joinstyle='round')
    ax.plot(x, hmis, color=C_HMIS, lw=1.9, zorder=4, solid_joinstyle='round')
    ax.plot(x_adj, adj, color=C_ADJ, lw=1.9, zorder=5, solid_joinstyle='round')

    ax.text(1.011, 0.5, years[i], transform=ax.transAxes, rotation=-90,
            ha='left', va='center', fontsize=7.5, color='#1A1A1A',
            family=['Liberation Sans', 'DejaVu Sans'])

fig.text(46 / W, 1 - 302 / H, 'Case ratio: log(5\u201314/  under five)', rotation=90,
         ha='center', va='center', fontsize=TITLE_FS, color='#1A1A1A')
fig.text(514 / W, 1 - 624 / H, 'Date', ha='center', va='center', fontsize=TITLE_FS,
         color='#1A1A1A')

fig.text(160 / W, 1 - 657 / H, 'Legend', ha='left', va='center', fontsize=TITLE_FS,
         color='#1A1A1A')
handles = [Line2D([], [], color=C_SIM, lw=2.0),
           Line2D([], [], color=C_HMIS, lw=2.0),
           Line2D([], [], color=C_ADJ, lw=2.0)]
labels = ['Malaria simulation', 'HMIS', 'Adjusted HMIS']
leg = fig.legend(handles, labels, loc='center left',
                 bbox_to_anchor=(265 / W, 1 - 657 / H), ncol=3, frameon=False,
                 fontsize=TITLE_FS, handlelength=1.1, handletextpad=0.6,
                 columnspacing=2.2, borderaxespad=0, borderpad=0)
for t in leg.get_texts():
    t.set_color('#1A1A1A')

fig.savefig('out.png', dpi=100, facecolor='white')
